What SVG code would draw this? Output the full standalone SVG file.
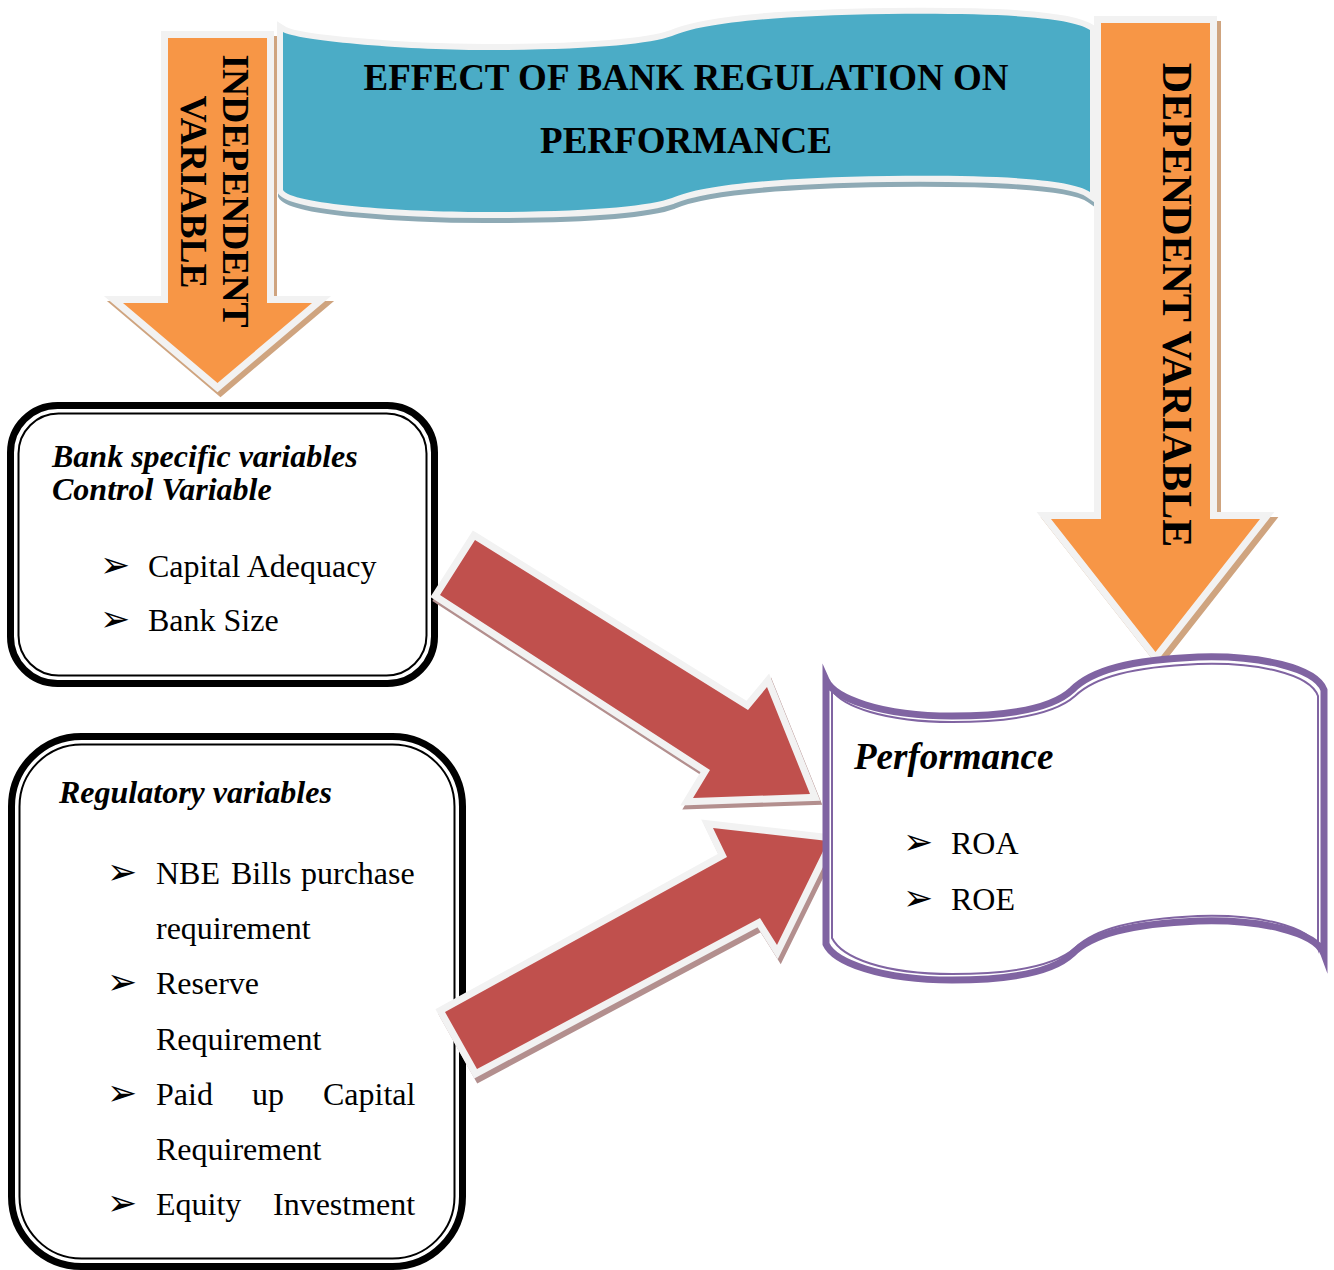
<svg xmlns="http://www.w3.org/2000/svg" width="1334" height="1270" viewBox="0 0 1334 1270">
<defs>
<style>
.serif{font-family:"Liberation Serif","Times New Roman",serif;fill:#000}
.bi{font-weight:bold;font-style:italic;font-size:32px}
.reg{font-size:32px}
.ttl{font-weight:bold;font-size:37px}
.bul{font-family:"DejaVu Sans",sans-serif;font-size:36px;fill:#000}
.orange{fill:#f79646;stroke:#f2f2f2;stroke-width:14;paint-order:stroke;stroke-linejoin:miter;stroke-miterlimit:4}
.oshadow{fill:#cfa47f;stroke:#cfa47f;stroke-width:14;stroke-linejoin:miter;stroke-miterlimit:4}
.red{fill:#c0504d;stroke:#f2f2f2;stroke-width:14;paint-order:stroke;stroke-linejoin:miter;stroke-miterlimit:4}
.rshadow{fill:#b38f8e;stroke:#b38f8e;stroke-width:14;stroke-linejoin:miter;stroke-miterlimit:4}
.boxo{fill:#fff;stroke:#000;stroke-width:7}
.boxi{fill:none;stroke:#000;stroke-width:2}
</style>
</defs>

<g id="title-banner">
<path transform="translate(1,5)" fill="#8eaab5" stroke="#8eaab5" stroke-width="12" stroke-linejoin="miter" stroke-miterlimit="4" d="M283,190 L283,32 C296,40 400,50 485,50 C590,50 650,44 672,36 C700,24 760,16 888,14 C990,13 1070,16 1090,30 L1090,192 C1070,178 990,175 888,176 C760,178 700,186 672,198 C650,206 590,212 485,212 C400,212 290,204 283,190 Z"/>
<path fill="#4bacc6" stroke="#f2f2f2" stroke-width="12" paint-order="stroke" stroke-linejoin="miter" stroke-miterlimit="4" d="M283,190 L283,32 C296,40 400,50 485,50 C590,50 650,44 672,36 C700,24 760,16 888,14 C990,13 1070,16 1090,30 L1090,192 C1070,178 990,175 888,176 C760,178 700,186 672,198 C650,206 590,212 485,212 C400,212 290,204 283,190 Z"/>
<text class="serif ttl" x="686" y="90" text-anchor="middle">EFFECT OF BANK REGULATION ON</text>
<text class="serif ttl" x="686" y="153" text-anchor="middle">PERFORMANCE</text>
</g>

<g id="independent-arrow">
<polygon class="oshadow" transform="translate(3,5)" points="168,38 267,38 267,303 312,303 217.5,383 123,303 168,303"/>
<polygon class="orange" points="168,38 267,38 267,303 312,303 217.5,383 123,303 168,303"/>
<text class="serif" font-weight="bold" font-size="37.5" text-anchor="middle" transform="translate(223,191) rotate(90)">INDEPENDENT</text>
<text class="serif" font-weight="bold" font-size="37.5" text-anchor="middle" transform="translate(181,192) rotate(90)">VARIABLE</text>
</g>

<g id="dependent-arrow">
<polygon class="oshadow" transform="translate(4,5)" points="1101,23 1210,23 1210,519 1260,519 1155.5,652 1051,519 1101,519"/>
<polygon class="orange" points="1101,23 1210,23 1210,519 1260,519 1155.5,652 1051,519 1101,519"/>
<text class="serif" font-weight="bold" font-size="42" text-anchor="middle" transform="translate(1163,305) rotate(90)">DEPENDENT VARIABLE</text>
</g>

<g id="bank-specific">
<rect class="boxo" x="10.5" y="405.5" width="424" height="278" rx="47"/>
<rect class="boxi" x="18.5" y="413.5" width="408" height="262" rx="40"/>
<text class="serif bi" x="52" y="467">Bank specific variables</text>
<text class="serif bi" x="52" y="500">Control Variable</text>
<text class="bul" x="100" y="577">➢</text>
<text class="serif reg" x="148" y="577">Capital Adequacy</text>
<text class="bul" x="100" y="631">➢</text>
<text class="serif reg" x="148" y="631">Bank Size</text>
</g>

<g id="regulatory">
<rect class="boxo" x="11.5" y="736.5" width="451" height="530" rx="70"/>
<rect class="boxi" x="19.5" y="744.5" width="435" height="514" rx="62"/>
<text class="serif bi" x="59" y="803">Regulatory variables</text>
<text class="bul" x="107" y="884">➢</text>
<text class="serif reg" y="884"><tspan x="156">NBE</tspan><tspan x="231">Bills</tspan><tspan x="301">purchase</tspan></text>
<text class="serif reg" x="156" y="939">requirement</text>
<text class="bul" x="107" y="994">➢</text>
<text class="serif reg" x="156" y="994">Reserve</text>
<text class="serif reg" x="156" y="1050">Requirement</text>
<text class="bul" x="107" y="1105">➢</text>
<text class="serif reg" y="1105"><tspan x="156">Paid</tspan><tspan x="252">up</tspan><tspan x="323">Capital</tspan></text>
<text class="serif reg" x="156" y="1160">Requirement</text>
<text class="bul" x="107" y="1215">➢</text>
<text class="serif reg" y="1215"><tspan x="156">Equity</tspan><tspan x="273">Investment</tspan></text>
</g>

<g id="connectors">
<polygon class="rshadow" transform="translate(2,4)" points="475,540 748,710 767,687 810,794 693,798 710,770 440,595"/>
<polygon class="red" points="475,540 748,710 767,687 810,794 693,798 710,770 440,595"/>
<polygon class="rshadow" transform="translate(3,5)" points="445,1012 727,857 713,828 828,841 777,945 760,918 477,1069"/>
<polygon class="red" points="445,1012 727,857 713,828 828,841 777,945 760,918 477,1069"/>
</g>

<g id="performance">
<path fill="#fff" stroke="#8064a2" stroke-width="7" stroke-linejoin="miter" stroke-miterlimit="10" d="M826,944 L826,680 C834,698 880,716 952,716 C1020,716 1055,706 1072,690 C1092,670 1130,660 1198,657 C1260,655 1316,668 1324,690 L1324,954 C1316,932 1260,919 1198,921 C1130,924 1092,934 1072,954 C1055,970 1020,980 952,980 C880,980 834,962 826,944 Z"/>
<path fill="none" stroke="#8064a2" stroke-width="2" stroke-linejoin="miter" stroke-miterlimit="6" d="M832,938 L832,690 C842,706 884,722 952,722 C1020,722 1057,712 1075,696 C1095,677 1132,667 1198,664 C1258,662 1310,674 1318,696 L1318,948 C1310,926 1258,914 1198,916 C1132,919 1095,929 1075,948 C1057,964 1020,974 952,974 C884,974 842,958 832,938 Z"/>
<text class="serif" font-weight="bold" font-style="italic" font-size="37" x="854" y="769">Performance</text>
<text class="bul" x="903" y="854">➢</text>
<text class="serif reg" x="951" y="854">ROA</text>
<text class="bul" x="903" y="910">➢</text>
<text class="serif reg" x="951" y="910">ROE</text>
</g>
</svg>
